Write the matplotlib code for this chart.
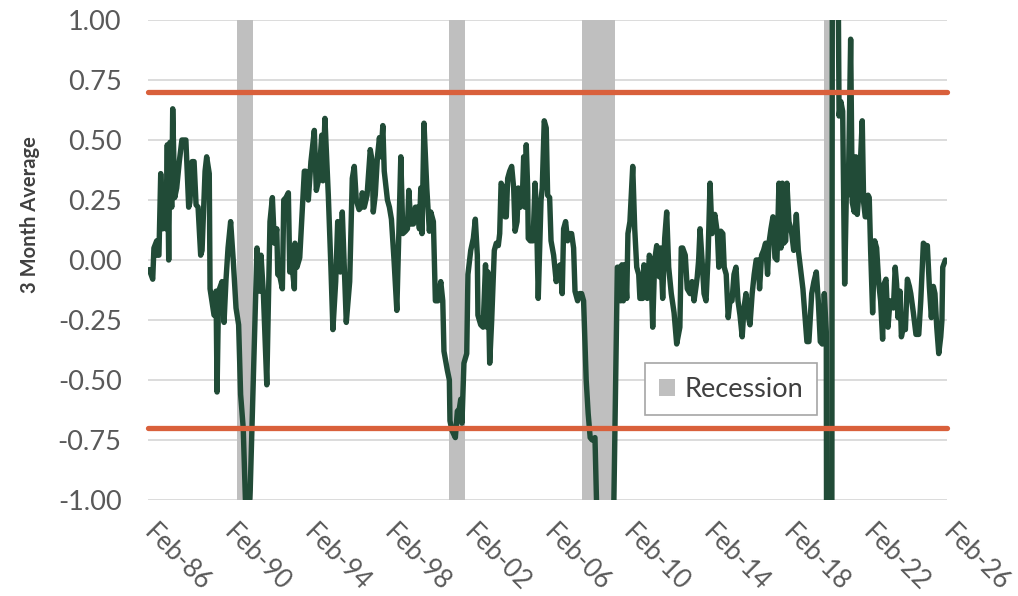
import matplotlib
matplotlib.use('Agg')
import matplotlib.pyplot as plt
from matplotlib.patches import Patch
import numpy as np

# ---------------- data (decimal years, 3-month average index values) ----------------
dates_a = [1986.15, 1986.32, 1986.38, 1986.52, 1986.55, 1986.63, 1986.72, 1986.82, 1986.92, 1986.98,
           1987.05, 1987.12, 1987.18, 1987.27, 1987.32, 1987.42, 1987.52, 1987.65, 1987.78, 1987.98,
           1988.12, 1988.18, 1988.29, 1988.39, 1988.49, 1988.59, 1988.72, 1988.79, 1988.94, 1989.02,
           1989.15, 1989.19, 1989.39, 1989.49, 1989.54, 1989.62, 1989.79, 1989.89, 1989.99, 1990.09,
           1990.22, 1990.35, 1990.49, 1990.62, 1990.72, 1990.85, 1990.99, 1991.09, 1991.20, 1991.54,
           1991.68, 1991.74, 1991.86, 1992.03, 1992.19, 1992.31, 1992.41, 1992.53, 1992.58, 1992.69,
           1992.81, 1992.88, 1992.99, 1993.11, 1993.18, 1993.28, 1993.41, 1993.44, 1993.54, 1993.68,
           1993.91, 1993.98, 1994.11, 1994.24, 1994.41, 1994.51, 1994.64, 1994.78, 1994.84, 1994.94,
           1995.11, 1995.24, 1995.34, 1995.48, 1995.58, 1995.71, 1995.81, 1995.91]
values_a = [-0.04, -0.08, 0.05, 0.08, 0.02, 0.02, 0.36, 0.13, 0.25, 0.13,
            0.48, 0.00, 0.49, 0.22, 0.63, 0.26, 0.30, 0.41, 0.50, 0.50,
            0.22, 0.24, 0.41, 0.41, 0.23, 0.22, 0.02, 0.04, 0.37, 0.43,
            0.36, -0.12, -0.23, -0.13, -0.55, -0.13, -0.09, -0.26, -0.08, 0.05,
            0.16, 0.00, -0.20, -0.27, -0.56, -0.70, -1.08, -1.12, -0.96, 0.05,
            -0.13, 0.02, -0.14, -0.52, 0.16, 0.26, 0.07, 0.13, -0.06, -0.07,
            -0.12, 0.25, 0.26, 0.28, -0.05, -0.01, -0.12, 0.07, -0.03, 0.01,
            0.37, 0.37, 0.25, 0.41, 0.54, 0.29, 0.34, 0.52, 0.33, 0.59,
            0.27, -0.03, -0.29, -0.09, 0.16, -0.05, 0.20, -0.03]

dates_b = [1996.01, 1996.18, 1996.31, 1996.41, 1996.51, 1996.65, 1996.75, 1996.81, 1996.91, 1997.05,
           1997.21, 1997.31, 1997.36, 1997.46, 1997.57, 1997.67, 1997.74, 1997.84, 1997.91, 1998.07,
           1998.17, 1998.27, 1998.40, 1998.54, 1998.64, 1998.74, 1998.84, 1998.97, 1999.07, 1999.14,
           1999.24, 1999.37, 1999.47, 1999.57, 1999.67, 1999.74, 1999.80, 1999.90, 2000.04, 2000.17,
           2000.24, 2000.37, 2000.47, 2000.60, 2000.74, 2000.84, 2000.90, 2001.07, 2001.17, 2001.20,
           2001.30, 2001.47, 2001.57, 2001.67, 2001.74, 2001.80, 2001.90, 2002.04, 2002.10, 2002.24,
           2002.37, 2002.47, 2002.57, 2002.60, 2002.74, 2002.86, 2002.98, 2003.05, 2003.10, 2003.19,
           2003.29, 2003.42, 2003.52, 2003.62, 2003.69, 2003.76, 2003.89, 2003.96, 2004.02, 2004.09,
           2004.19, 2004.29, 2004.39, 2004.46, 2004.56, 2004.62, 2004.72, 2004.82, 2004.89, 2004.96,
           2005.02, 2005.09, 2005.12, 2005.22, 2005.36, 2005.46, 2005.53, 2005.62, 2005.76, 2005.82,
           2005.92]
values_b = [-0.26, -0.09, 0.34, 0.39, 0.25, 0.21, 0.22, 0.28, 0.22, 0.27,
            0.46, 0.41, 0.20, 0.27, 0.43, 0.51, 0.43, 0.56, 0.37, 0.25,
            0.22, 0.17, 0.00, -0.21, 0.11, 0.43, 0.11, 0.12, 0.13, 0.29,
            0.15, 0.15, 0.22, 0.22, 0.13, 0.30, 0.11, 0.57, 0.30, 0.12,
            0.20, 0.16, -0.17, -0.17, -0.09, -0.17, -0.38, -0.46, -0.50, -0.67,
            -0.71, -0.74, -0.63, -0.62, -0.58, -0.68, -0.43, -0.39, -0.06, 0.04,
            0.09, 0.17, 0.02, -0.23, -0.27, -0.28, -0.02, -0.28, -0.05, -0.43,
            -0.25, 0.04, 0.07, 0.06, 0.11, 0.32, 0.30, 0.18, 0.18, 0.34,
            0.37, 0.39, 0.30, 0.12, 0.16, 0.30, 0.22, 0.25, 0.43, 0.22,
            0.48, 0.30, 0.09, 0.08, 0.08, 0.32, 0.20, -0.16, 0.25, 0.30,
            0.58]

dates_c = [2006.02, 2006.09, 2006.19, 2006.26, 2006.39, 2006.52, 2006.62, 2006.72, 2006.82, 2006.89,
           2006.99, 2007.09, 2007.19, 2007.29, 2007.39, 2007.46, 2007.59, 2007.69, 2007.79, 2007.89,
           2008.02, 2008.12, 2008.22, 2008.32, 2008.46, 2008.55, 2008.70, 2008.90, 2009.05, 2009.20,
           2009.30, 2009.58, 2009.68, 2009.75, 2009.81, 2009.88, 2009.95, 2010.05, 2010.11, 2010.21,
           2010.35, 2010.45, 2010.55, 2010.65, 2010.71, 2010.85, 2010.91, 2011.01, 2011.08, 2011.18,
           2011.25, 2011.35, 2011.45, 2011.55, 2011.68, 2011.75, 2011.85, 2011.95, 2012.05, 2012.15,
           2012.28, 2012.42, 2012.55, 2012.71, 2012.78, 2012.85, 2012.98, 2013.08, 2013.22, 2013.32,
           2013.42, 2013.52, 2013.58, 2013.65, 2013.72, 2013.82, 2013.92, 2014.02, 2014.12, 2014.22,
           2014.32, 2014.38, 2014.46, 2014.59, 2014.66, 2014.76, 2014.86, 2014.93, 2015.03, 2015.13,
           2015.23, 2015.32, 2015.42, 2015.52, 2015.62, 2015.72, 2015.83, 2015.92]
values_c = [0.55, 0.27, 0.26, 0.08, 0.02, -0.09, -0.03, -0.02, -0.14, 0.13,
            0.16, 0.08, 0.11, 0.11, 0.05, -0.13, -0.17, -0.14, -0.14, -0.17,
            -0.50, -0.64, -0.74, -0.75, -0.74, -1.05, -1.60, -2.40, -3.40, -2.50,
            -1.60, -0.03, -0.03, -0.17, -0.02, -0.17, -0.02, -0.16, 0.11, 0.16,
            0.39, 0.13, -0.03, -0.06, -0.16, -0.16, -0.02, -0.06, -0.16, 0.02,
            0.00, -0.28, 0.00, 0.06, -0.07, 0.05, -0.16, 0.09, 0.20, -0.03,
            -0.14, -0.22, -0.35, -0.28, 0.05, 0.05, 0.02, -0.12, -0.14, -0.09,
            -0.17, -0.11, -0.07, 0.00, 0.13, 0.00, -0.14, -0.17, 0.01, 0.32,
            0.11, 0.16, 0.19, 0.11, -0.03, 0.12, 0.11, -0.03, -0.06, -0.24,
            -0.16, -0.17, -0.06, -0.03, -0.17, -0.23, -0.32, -0.20]

dates_d = [2016.02, 2016.12, 2016.22, 2016.33, 2016.43, 2016.53, 2016.63, 2016.70, 2016.80, 2016.90,
           2017.00, 2017.10, 2017.17, 2017.27, 2017.37, 2017.47, 2017.57, 2017.67, 2017.77, 2017.84,
           2017.91, 2018.01, 2018.07, 2018.17, 2018.31, 2018.41, 2018.54, 2018.64, 2018.74, 2018.87,
           2018.97, 2019.07, 2019.17, 2019.31, 2019.42, 2019.54, 2019.64, 2019.74, 2019.84, 2019.94,
           2020.04, 2020.10, 2020.20, 2020.28, 2020.36, 2020.45, 2020.53, 2020.61, 2020.68, 2020.77,
           2020.86, 2020.96, 2021.04, 2021.14, 2021.26, 2021.34, 2021.44, 2021.52, 2021.59, 2021.69,
           2021.84, 2021.91, 2021.99, 2022.08, 2022.13, 2022.19, 2022.26, 2022.36, 2022.46, 2022.56,
           2022.67, 2022.76, 2022.86, 2022.93, 2023.03, 2023.13, 2023.23, 2023.33, 2023.40, 2023.49,
           2023.56, 2023.63, 2023.73, 2023.80, 2023.90, 2024.00, 2024.10, 2024.20, 2024.27, 2024.40,
           2024.53, 2024.67, 2024.77, 2024.90, 2025.00, 2025.10, 2025.20, 2025.30, 2025.40, 2025.48,
           2025.57, 2025.67, 2025.77, 2025.83, 2025.87, 2026.00]
values_d = [-0.14, -0.23, -0.27, -0.14, -0.06, 0.00, 0.00, -0.12, 0.02, 0.04,
            0.07, -0.06, 0.07, 0.13, 0.18, 0.01, 0.00, 0.32, 0.05, 0.32,
            0.07, 0.08, 0.32, 0.16, 0.11, 0.04, 0.19, 0.04, -0.03, -0.12,
            -0.23, -0.34, -0.34, -0.14, -0.09, -0.05, -0.17, -0.34, -0.35, -0.14,
            -0.30, -4.00, -6.00, -5.00, 3.00, 4.50, 2.50, 1.50, 0.60, 0.66,
            0.62, -0.10, 0.26, 0.28, 0.92, 0.24, 0.20, 0.43, 0.19, 0.30,
            0.58, 0.24, 0.18, 0.18, 0.27, 0.26, 0.04, -0.22, 0.08, 0.05,
            -0.10, -0.17, -0.33, -0.10, -0.08, -0.28, -0.17, -0.18, -0.20, -0.03,
            -0.10, -0.24, -0.13, -0.32, -0.28, -0.29, -0.08, -0.11, -0.14, -0.22,
            -0.31, -0.31, -0.17, 0.07, 0.06, 0.06, -0.11, -0.24, -0.11, -0.14,
            -0.28, -0.39, -0.32, -0.25, -0.03, 0.00]

recession_starts = [1990.52, 2001.14, 2007.82, 2019.93]
recession_ends = [1991.33, 2001.95, 2009.46, 2020.23]

upper_threshold = 0.70
lower_threshold = -0.70

tick_years = [1986, 1990, 1994, 1998, 2002, 2006, 2010, 2014, 2018, 2022, 2026]
tick_labels = ['Feb-86', 'Feb-90', 'Feb-94', 'Feb-98', 'Feb-02', 'Feb-06',
               'Feb-10', 'Feb-14', 'Feb-18', 'Feb-22', 'Feb-26']
y_ticks = [-1.00, -0.75, -0.50, -0.25, 0.00, 0.25, 0.50, 0.75, 1.00]

# ---------------- plot ----------------
plt.rcParams['font.family'] = ['Lato', 'DejaVu Sans']
plt.rcParams['axes.unicode_minus'] = False

dates = dates_a + dates_b + dates_c + dates_d
values = values_a + values_b + values_c + values_d

fig = plt.figure(figsize=(10.18, 5.96), dpi=100)
ax = fig.add_axes([148 / 1018, 1 - 500 / 596, 799 / 1018, 480 / 596])

x_min = 1986 + 1 / 12
x_max = 2026 + 1 / 12
ax.set_xlim(x_min, x_max)
ax.set_ylim(-1.0, 1.0)

ax.set_yticks(y_ticks)
ax.set_yticklabels([f'{v:.2f}' for v in y_ticks])
ax.grid(axis='y', color='#D9D9D9', lw=1.3, zorder=0)
ax.set_axisbelow(True)

for s, e in zip(recession_starts, recession_ends):
    ax.axvspan(s, e, color='#BFBFBF', lw=0, zorder=1)

ax.plot(dates, values, color='#214B37', lw=3.9, zorder=3,
        solid_joinstyle='round', solid_capstyle='round')

for thr in (upper_threshold, lower_threshold):
    ax.plot([x_min, x_max], [thr, thr], color='#D9603B', lw=3.8,
            solid_capstyle='round', zorder=4, clip_on=False)

for sp in ax.spines.values():
    sp.set_visible(False)

ax.set_xticks([y + 1 / 12 for y in tick_years])
ax.set_xticklabels(tick_labels, rotation=-45, ha='left', va='center',
                   rotation_mode='anchor')
ax.tick_params(axis='both', length=0, labelcolor='#595959')
ax.tick_params(axis='y', pad=19, labelsize=19.5)
ax.tick_params(axis='x', pad=21, labelsize=18.5)

ax.set_ylabel('3 Month Average', fontsize=14.5, fontweight='bold', color='#404040')
ax.yaxis.set_label_coords(-0.135, 0.594)

leg = ax.legend(handles=[Patch(facecolor='#BFBFBF', edgecolor='none', label='Recession')],
                loc='upper left', bbox_to_anchor=(0.622, 0.285), borderaxespad=0,
                fancybox=False, framealpha=1, edgecolor='#A6A6A6', fontsize=19.5,
                handlelength=0.6, handleheight=0.6, handletextpad=0.35, borderpad=0.5,
                labelcolor='#404040')
leg.get_frame().set_linewidth(1.2)
leg.set_zorder(5)

fig.savefig('out.png', dpi=100)
